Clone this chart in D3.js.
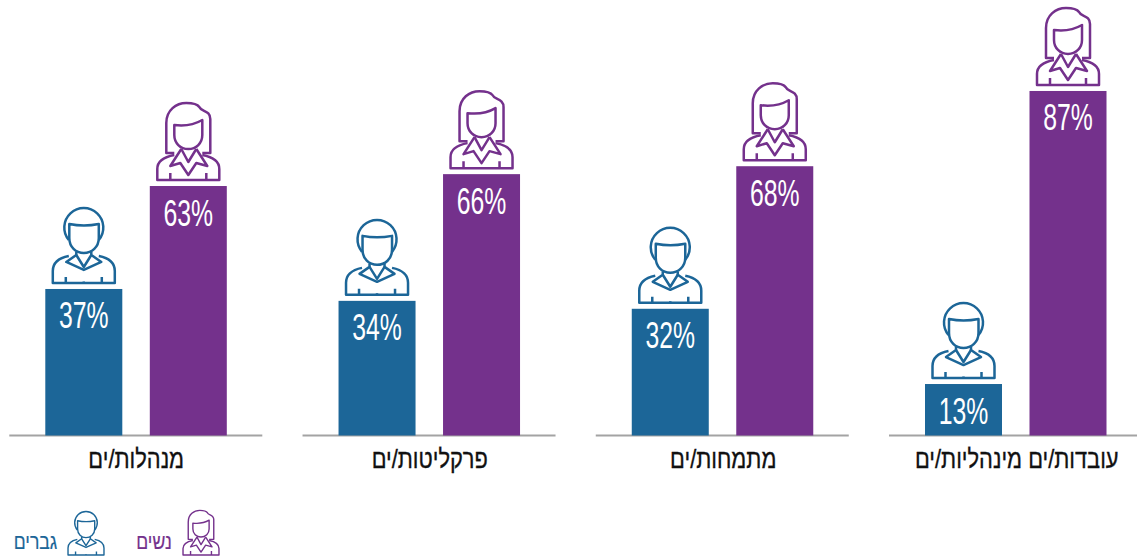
<!DOCTYPE html>
<html lang="he"><head><meta charset="utf-8">
<style>html,body{margin:0;padding:0;background:#fff;overflow:hidden}svg{display:block}
text{font-family:"Liberation Sans Narrow","Liberation Sans",sans-serif}</style>
<script src="https://cdn.jsdelivr.net/npm/d3@7/dist/d3.min.js"></script></head><body>
<svg id="c" width="1137" height="559"></svg>
<script>
const categories = ["מנהלות/ים","פרקליטות/ים","מתמחות/ים","עובדות/ים מינהליות/ים"];
const men = [37,34,32,13];
const women = [63,66,68,87];
const seriesNames = ["גברים","נשים"];
const BLUE="#1c6698", PURPLE="#74318c";

const manIcon = [
 "M-15,-43 A19.5,19.5 0 1 1 15,-43",
 "M-14.5,-59 Q0,-56 15,-59 L15,-45 C15,-36 8,-30 0,-30 C-8,-30 -14.5,-36 -14.5,-45 Z",
 "M-7.5,-31 L-7.5,-28 L-17.5,-21 L0,-13 L17.5,-21 L7.5,-28 L7.5,-31",
 "M-7.5,-28 L0,-16 L7.5,-28",
 "M-15,-27 C-25,-25 -31,-20 -31,-12 L-31,0 L31,0 L31,-12 C31,-20 25,-25 15,-27",
 "M-18,0 L-18,-6 M18,0 L18,-6 M0,0 L0,-1.5"
];
const womanIcon = [
 "M-14,-27 L-22,-27 L-22,-57 C-22,-70 -12,-77 -2,-77 C4,-77 9,-76 11,-73 C13,-68 22,-70 22,-61 L22,-27 L14,-27",
 "M-14,-55 Q2,-53 14,-60 L14,-45 C14,-37 8,-31 0,-31 C-8,-31 -14,-37 -14,-45 Z",
 "M-7,-31 L-18,-14 L-8,-17 L0,-5 L8,-17 L19,-14 L8,-31",
 "M-7,-31 L0,-18 L8,-31",
 "M-14,-25 C-25,-23 -31,-18 -31,-11 L-31,0 L31,0 L31,-11 C31,-18 25,-23 14,-25",
 "M-18,0 L-18,-7 M18,0 L18,-7"
];

const svg = d3.select("#c");
const baseY = 435.5;
const y = d3.scaleLinear().domain([0,100]).range([baseY, baseY-396]);
const panel = d3.scalePoint().domain(categories).range([45.3,925]);
const inner = d3.scaleOrdinal().domain(seriesNames).range([0,104.5]);
const barW = 77;
const axisBand = d3.scaleBand().domain(categories).range([-10.5,1163.5]);

function icon(parent, paths, color, cx, bottom, s, sw){
  const g = parent.append("g").attr("transform",`translate(${cx},${bottom}) scale(${s})`)
    .attr("fill","none").attr("stroke",color).attr("stroke-width",sw/s).attr("stroke-linejoin","round");
  g.selectAll("path").data(paths).join("path").attr("d",d=>d);
}
function pct(parent,cx,top,v){
  parent.append("text").attr("transform",`translate(${cx},${top+39.5}) scale(0.67,1)`)
    .attr("text-anchor","middle").attr("fill","#fff").attr("font-size",37).text(v+"%");
}
categories.forEach((c,i)=>{
  const px = panel(c);
  const g = svg.append("g");
  g.append("line").attr("x1",px-36).attr("x2",px+217).attr("y1",baseY).attr("y2",baseY)
    .attr("stroke","#a3a3a3").attr("stroke-width",2);
  [[seriesNames[0],men[i],BLUE,manIcon],[seriesNames[1],women[i],PURPLE,womanIcon]].forEach(([s,v,col,ic])=>{
    const x = px+inner(s);
    g.append("rect").attr("x",x).attr("y",y(v)).attr("width",barW).attr("height",baseY-y(v)).attr("fill",col);
    pct(g,x+barW/2,y(v),v);
    icon(g,ic,col,x+barW/2,y(v)-6,1,2.5);
  });
});
const ax = svg.append("g").attr("transform",`translate(0,${baseY})`)
  .call(d3.axisBottom(axisBand).tickSize(0).tickPadding(14));
ax.select(".domain").remove();
ax.selectAll("text").attr("font-size",26).attr("fill","#111").attr("stroke","#111").attr("stroke-width",0.35)
  .attr("direction","rtl").attr("transform","scale(0.84,1)")
  .style("font-family",'"Liberation Sans Narrow","Liberation Sans",sans-serif');

// legend
icon(svg,manIcon,BLUE,86,555,0.58,1.4);
icon(svg,womanIcon,PURPLE,201,555,0.58,1.4);
function legendText(cx,col,t){
  svg.append("text").attr("transform",`translate(${cx},549) scale(0.8,1)`).attr("text-anchor","middle")
    .attr("font-size",22).attr("fill",col).attr("stroke",col).attr("stroke-width",0.2).text(t);
}
legendText(35.5,BLUE,seriesNames[0]);
legendText(154,PURPLE,seriesNames[1]);
</script></body></html>
